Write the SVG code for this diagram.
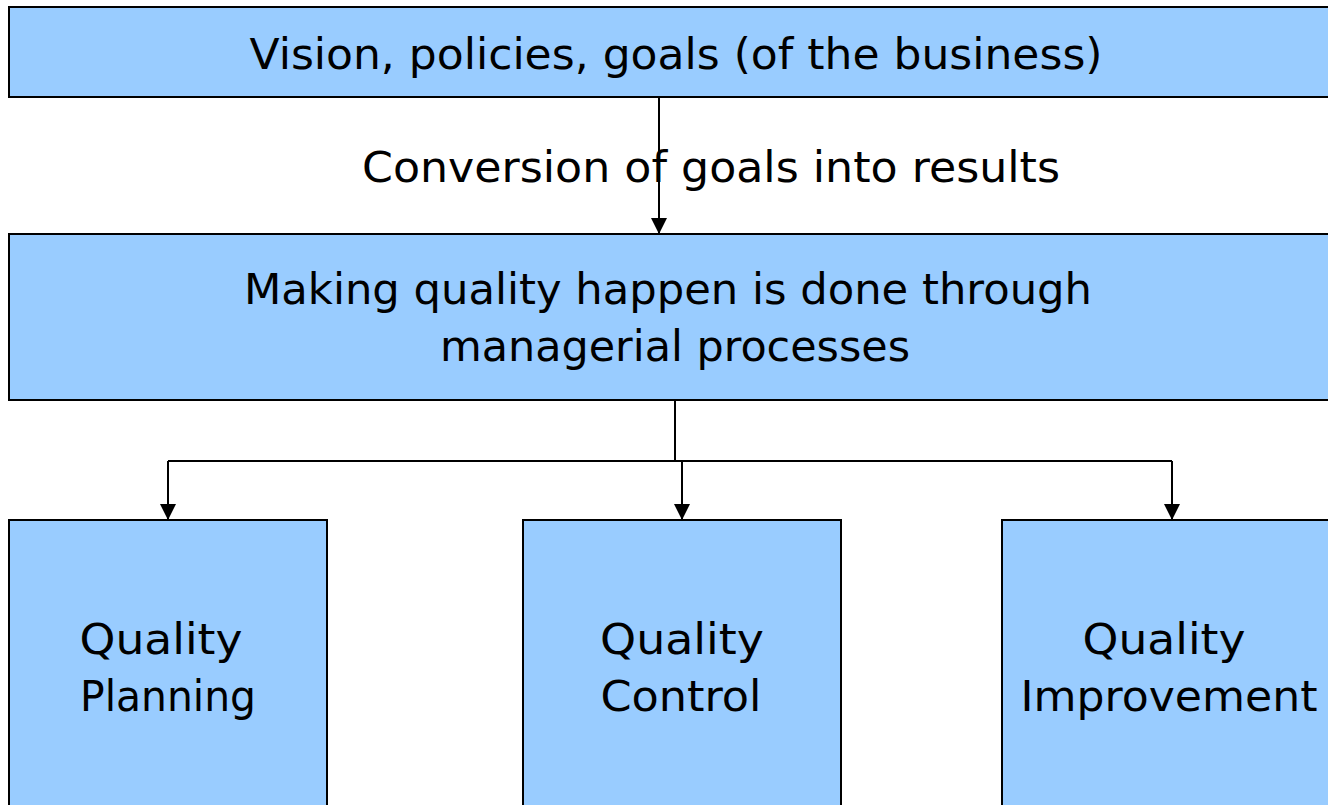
<svg xmlns="http://www.w3.org/2000/svg" width="1328" height="805" viewBox="0 0 1328 805">
<defs>
<style>
.box{fill:#99CCFF;stroke:#000;stroke-width:2}
.t{font-family:"DejaVu Sans","Liberation Sans",sans-serif;font-size:42px;fill:#000;text-anchor:middle}
.c{fill:none;stroke:#000;stroke-width:2}
</style>
<marker id="ah" viewBox="0 0 16 16" refX="16" refY="8" markerWidth="16" markerHeight="16" markerUnits="userSpaceOnUse" orient="auto">
<path d="M0,0 L16,8 L0,16 Z" fill="#000"/>
</marker>
</defs>
<rect width="1328" height="805" fill="#fff"/>
<g id="vision">
<rect class="box" x="9" y="7" width="1330" height="90"/>
<text class="t" x="676" y="69" textLength="853" lengthAdjust="spacingAndGlyphs">Vision, policies, goals (of the business)</text>
</g>
<g id="making">
<rect class="box" x="9" y="234" width="1330" height="166"/>
<text class="t" x="668" y="304" textLength="848" lengthAdjust="spacingAndGlyphs">Making quality happen is done through</text>
<text class="t" x="675" y="361" textLength="470" lengthAdjust="spacingAndGlyphs">managerial processes</text>
</g>
<g id="planning">
<rect class="box" x="9" y="520" width="318" height="300"/>
<text class="t" x="161" y="654" textLength="163" lengthAdjust="spacingAndGlyphs">Quality</text>
<text class="t" x="168" y="711" textLength="176" lengthAdjust="spacingAndGlyphs">Planning</text>
</g>
<g id="control">
<rect class="box" x="523" y="520" width="318" height="300"/>
<text class="t" x="682" y="654" textLength="164" lengthAdjust="spacingAndGlyphs">Quality</text>
<text class="t" x="681" y="711" textLength="161" lengthAdjust="spacingAndGlyphs">Control</text>
</g>
<g id="improvement">
<rect class="box" x="1002" y="520" width="340" height="300"/>
<text class="t" x="1164" y="654" textLength="163" lengthAdjust="spacingAndGlyphs">Quality</text>
<text class="t" x="1169" y="711" textLength="297" lengthAdjust="spacingAndGlyphs">Improvement</text>
</g>
<g id="connectors">
<path class="c" d="M659,97 V234" marker-end="url(#ah)"/>
<path class="c" d="M675,400 V461"/>
<path class="c" d="M168,461 H1172"/>
<path class="c" d="M168,461 V520" marker-end="url(#ah)"/>
<path class="c" d="M682,461 V520" marker-end="url(#ah)"/>
<path class="c" d="M1172,461 V520" marker-end="url(#ah)"/>
</g>
<text class="t" x="711" y="182" textLength="698" lengthAdjust="spacingAndGlyphs">Conversion of goals into results</text>
</svg>
